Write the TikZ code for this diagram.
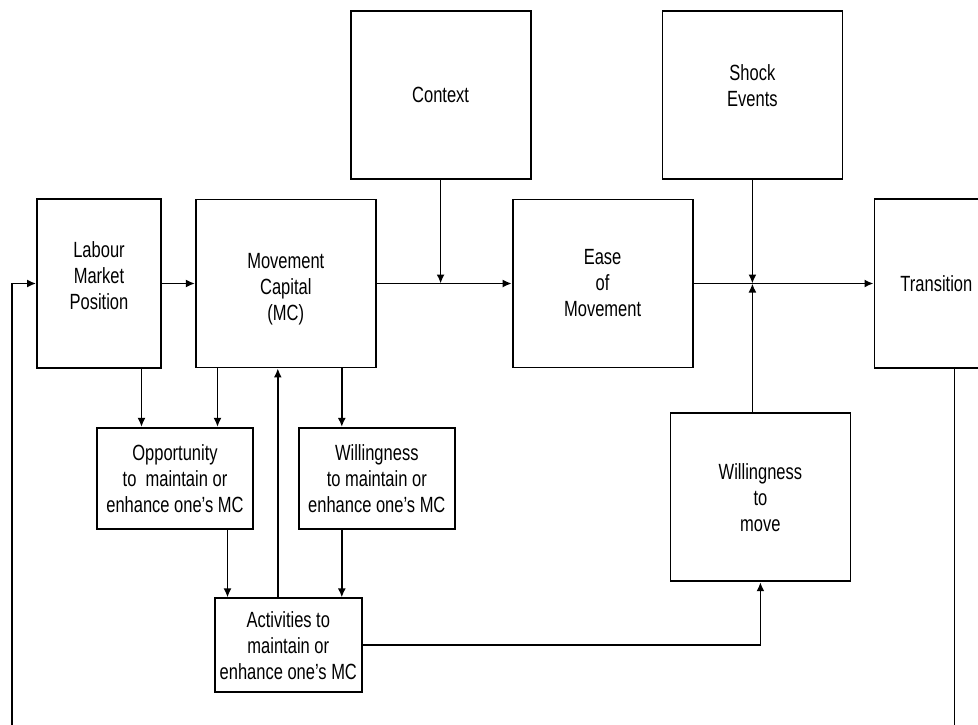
\documentclass[tikz,border=0pt]{standalone}
\usepackage{fontspec}
\setmainfont[FakeStretch=0.75]{Liberation Sans}
\usetikzlibrary{arrows.meta,positioning,calc}

\begin{document}
\begin{tikzpicture}[auto,
                    box/.style={draw, rectangle, line width=0.9pt, align=center, inner sep=0pt, font=\fontsize{11}{13}\selectfont},
                    tall/.style={box, minimum width=62pt, minimum height=84.5pt},
                    big/.style={box, minimum width=90pt, minimum height=84pt},
                    small/.style={box, minimum width=78pt, minimum height=50.5pt},
                    act/.style={box, minimum width=73.5pt, minimum height=47pt},
                    line/.style={draw, line width=0.85pt, -{Latex[length=4.5pt,width=4pt]}}]
    \useasboundingbox (0,0) rectangle (489pt,-362pt);
    \clip (0,0) rectangle (489pt,-362pt);
    % Nodes
    \node [tall] at (49.5pt,-141.75pt)                                        (labour)   {Labour\\Market\\Position\\[-5pt]\mbox{}};
    \node [big, right=16.5pt of labour]                                       (mc)       {\mbox{}\\Movement\\Capital\\(MC)};
    \node [big, right=67.5pt of mc]                                           (ease)     {Ease\\of\\Movement};
    \node [tall, right=90pt of ease]                                          (trans)    {Transition};
    \node [big, above=9.5pt of mc.north east, anchor=south west, xshift=-13.5pt] (context) {Context};
    \node [big, above=9.5pt of ease.north east, anchor=south west, xshift=-16pt] (shock)   {Shock\\Events\\[-4pt]\mbox{}};
    \node [small, below=29pt of labour.south west, anchor=north west, xshift=30pt] (opp)   {Opportunity\\to\ \ maintain or\\enhance one's MC};
    \node [small, right=22pt of opp]                                          (willmc)   {Willingness\\to maintain or\\enhance one's MC};
    \node [act, below=114.5pt of mc, xshift=1.25pt]                           (activ)    {Activities to\\maintain or\\enhance one's MC};
    \node [big, below=22pt of ease.south east, anchor=north west, xshift=-12pt] (willmove) {Willingness\\to\\move};

    % Helper coordinates
    \coordinate (lo) at ([xshift=-16.75pt]opp.north);
    \coordinate (mo) at ([xshift=21.25pt]opp.north);
    \coordinate (mw) at ([xshift=-17.5pt]willmc.north);
    \coordinate (oa) at ([xshift=26.25pt]opp.south);
    \coordinate (wa) at ([xshift=-17.5pt]willmc.south);
    \coordinate (am) at ([xshift=-5.25pt]activ.north);
    \coordinate (tb) at ([xshift=9pt]trans.south);
    \coordinate (loop) at (6pt,-370pt);

    % Paths
    \path [line] (labour) -- (mc);
    \path [line] (mc) -- (ease);
    \path [line] (ease) -- (trans);
    \path [line] (context) -- (context |- mc.east);
    \path [line] (shock) -- (shock |- ease.east);
    \path [line] (willmove.north -| shock) -- (shock |- ease.east);
    \path [line] (lo |- labour.south) -- (lo);
    \path [line] (mo |- mc.south) -- (mo);
    \path [line] (mw |- mc.south) -- (mw);
    \path [line] (oa) -- (oa |- activ.north);
    \path [line] (wa) -- (wa |- activ.north);
    \path [line] (am) -- (am |- mc.south);
    \path [line] (activ) -| (willmove);
    \path [line] (tb) |- (loop) |- (labour.west);
\end{tikzpicture}
\end{document}
